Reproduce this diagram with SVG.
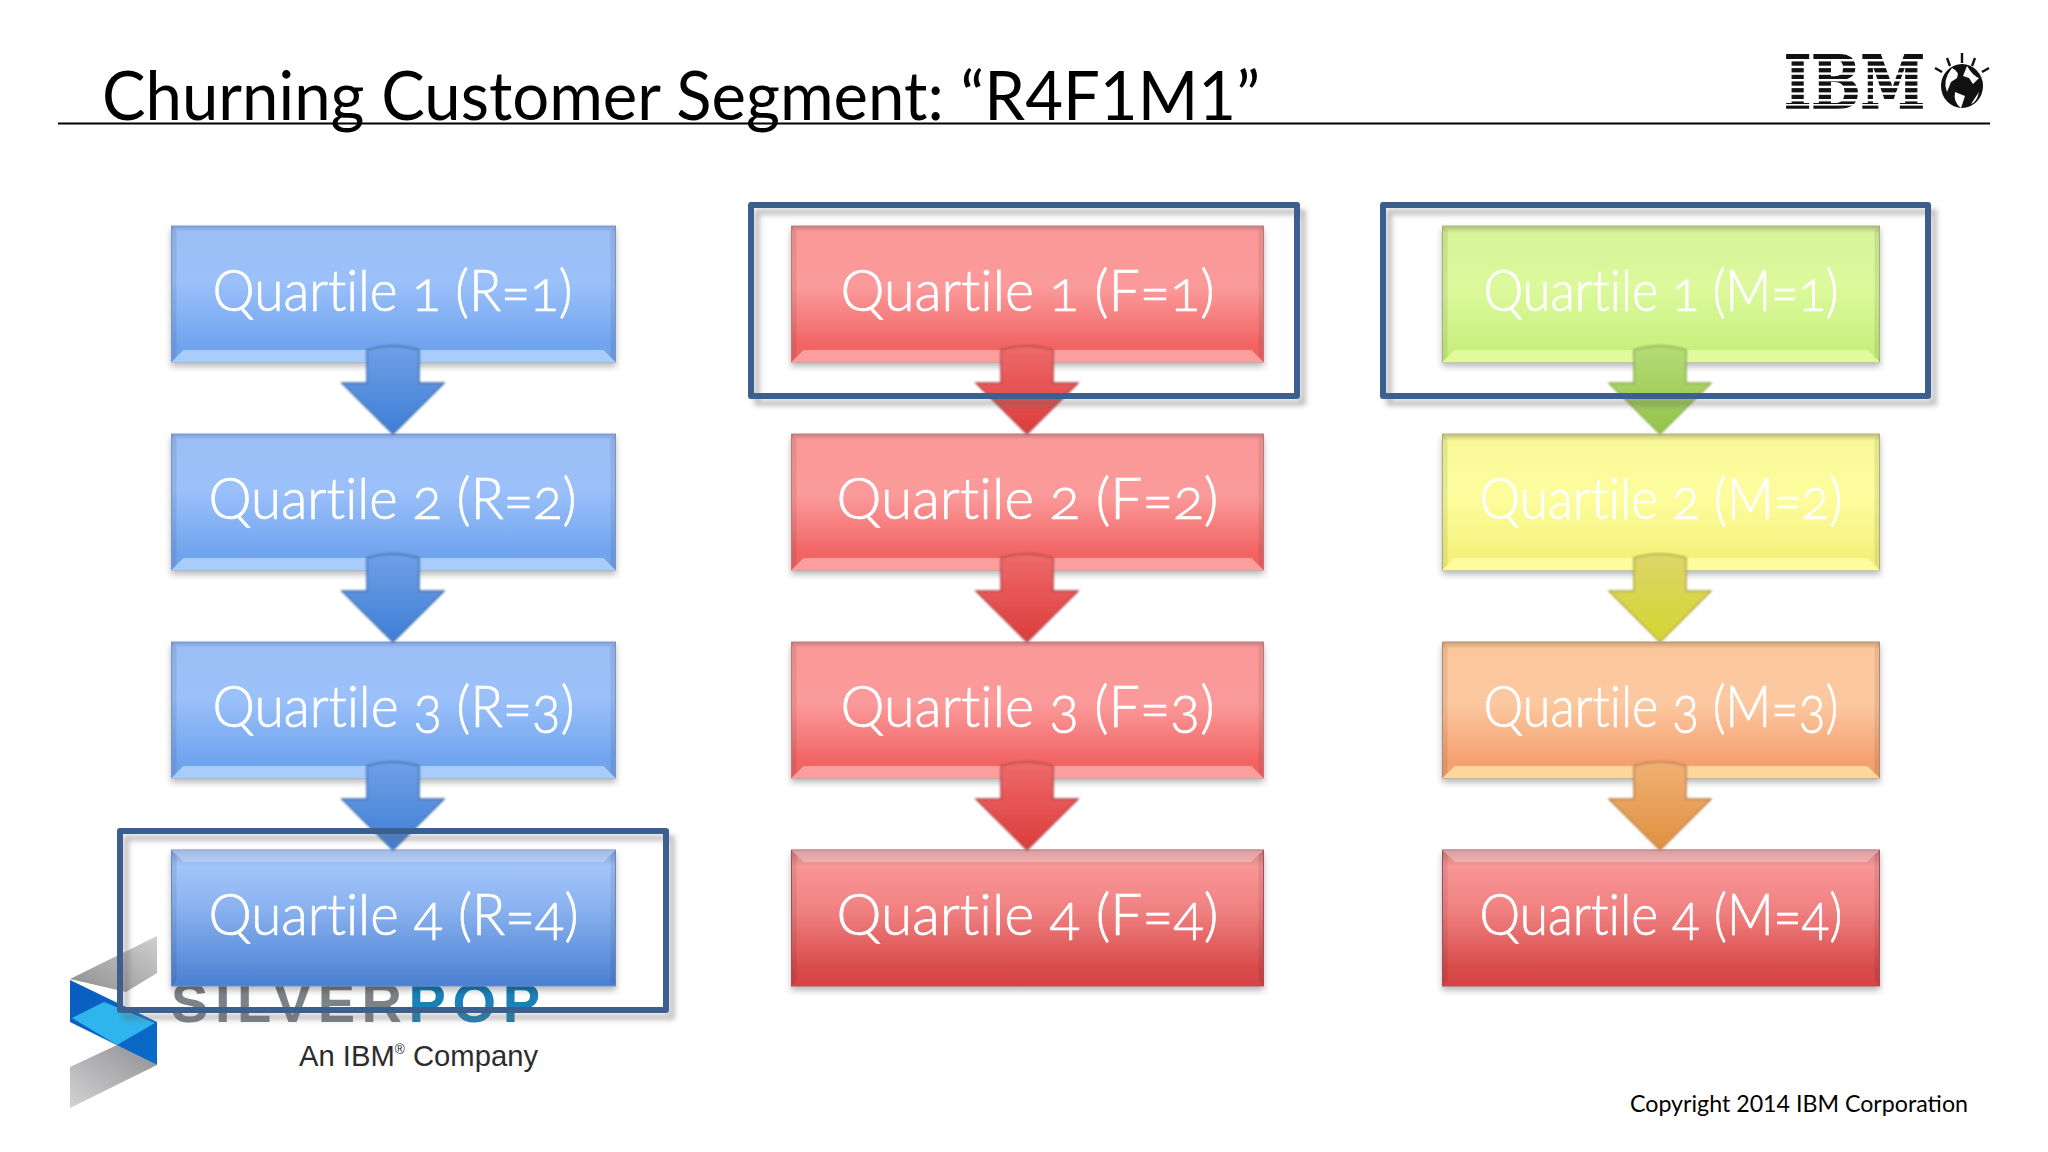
<svg xmlns="http://www.w3.org/2000/svg" width="2048" height="1152" viewBox="0 0 2048 1152">
<defs>
<style>
.t{font-family:"Lato","Open Sans",sans-serif;font-size:57px;fill:#fff;stroke:#fff;stroke-width:.7px;font-weight:300;font-variant-numeric:oldstyle-nums;font-variant-ligatures:none;font-feature-settings:"onum" 1,"liga" 0}
.title{font-family:"Lato","Open Sans",sans-serif;font-size:67px;fill:#000;font-variant-ligatures:none}
.frame{fill:none;stroke:#3b618f;stroke-width:6;stroke-linejoin:round;filter:url(#fs)}
.side{fill:#000;opacity:.08}
.hi{fill:#fff;opacity:.28}
</style>
<linearGradient id="gb" x1="0" y1="0" x2="0" y2="1"><stop offset="0" stop-color="#7f9fd6"/><stop offset=".04" stop-color="#9abdf5"/><stop offset=".4" stop-color="#9cc1fa"/><stop offset=".88" stop-color="#70a4ee"/><stop offset="1" stop-color="#70a4ee"/></linearGradient>
<linearGradient id="gb4" x1="0" y1="0" x2="0" y2="1"><stop offset="0" stop-color="#7f9fd6"/><stop offset=".12" stop-color="#a2c4fa"/><stop offset=".4" stop-color="#8cb4f0"/><stop offset="1" stop-color="#4a80d2"/></linearGradient>
<linearGradient id="gr" x1="0" y1="0" x2="0" y2="1"><stop offset="0" stop-color="#c87c7c"/><stop offset=".04" stop-color="#fb9898"/><stop offset=".45" stop-color="#fb9a9a"/><stop offset=".88" stop-color="#f26464"/><stop offset="1" stop-color="#f26464"/></linearGradient>
<linearGradient id="gr4" x1="0" y1="0" x2="0" y2="1"><stop offset="0" stop-color="#c87c7c"/><stop offset=".12" stop-color="#f99696"/><stop offset=".45" stop-color="#f08080"/><stop offset=".88" stop-color="#d84a4a"/><stop offset="1" stop-color="#d64444"/></linearGradient>
<linearGradient id="gg" x1="0" y1="0" x2="0" y2="1"><stop offset="0" stop-color="#a8bc78"/><stop offset=".05" stop-color="#d6f498"/><stop offset=".45" stop-color="#dcf99c"/><stop offset=".9" stop-color="#c8f07e"/><stop offset="1" stop-color="#c8f07e"/></linearGradient>
<linearGradient id="gy" x1="0" y1="0" x2="0" y2="1"><stop offset="0" stop-color="#bcbc78"/><stop offset=".05" stop-color="#f8f898"/><stop offset=".45" stop-color="#fdfd9e"/><stop offset=".9" stop-color="#f4f27c"/><stop offset="1" stop-color="#f4f27c"/></linearGradient>
<linearGradient id="go" x1="0" y1="0" x2="0" y2="1"><stop offset="0" stop-color="#c8a078"/><stop offset=".05" stop-color="#fcc79c"/><stop offset=".45" stop-color="#fcc8a0"/><stop offset=".88" stop-color="#f5a070"/><stop offset="1" stop-color="#f5a070"/></linearGradient>
<linearGradient id="ab" x1="0" y1="0" x2="0" y2="1"><stop offset="0" stop-color="#6ea0e6"/><stop offset="1" stop-color="#3f7ed6"/></linearGradient>
<linearGradient id="ar" x1="0" y1="0" x2="0" y2="1"><stop offset="0" stop-color="#ee6a6a"/><stop offset="1" stop-color="#dc3c3c"/></linearGradient>
<linearGradient id="ag" x1="0" y1="0" x2="0" y2="1"><stop offset="0" stop-color="#b4dc78"/><stop offset="1" stop-color="#94c448"/></linearGradient>
<linearGradient id="ay" x1="0" y1="0" x2="0" y2="1"><stop offset="0" stop-color="#dcd66a"/><stop offset="1" stop-color="#d6d430"/></linearGradient>
<linearGradient id="ao" x1="0" y1="0" x2="0" y2="1"><stop offset="0" stop-color="#f0b074"/><stop offset="1" stop-color="#e09040"/></linearGradient>
<linearGradient id="s1" x1="0" y1="1" x2="1" y2="0"><stop offset="0" stop-color="#8e8e90"/><stop offset="1" stop-color="#cfcfd0"/></linearGradient>
<linearGradient id="s2" x1="1" y1="0" x2="0" y2="1"><stop offset="0" stop-color="#909092"/><stop offset="1" stop-color="#d2d2d4"/></linearGradient>
<linearGradient id="s3" x1="0" y1="0" x2="1" y2="1"><stop offset="0" stop-color="#0a5cc0"/><stop offset="1" stop-color="#0a6cc8"/></linearGradient>
<filter id="sh" x="-5%" y="-5%" width="110%" height="125%"><feGaussianBlur in="SourceGraphic" stdDeviation=".6" result="b"/><feDropShadow in="b" dx="0" dy="4" stdDeviation="3" flood-color="#000" flood-opacity=".28"/></filter>
<filter id="fs" x="-5%" y="-8%" width="110%" height="120%"><feDropShadow dx="6" dy="7" stdDeviation="2.500" flood-color="#666" flood-opacity=".4"/></filter>
<filter id="b1"><feGaussianBlur stdDeviation=".9"/></filter>
<path id="arrow" d="M-26,-84 Q0,-92 26,-84 L26,-51 L51,-51 L0,0 L-51,-51 L-26,-51Z"/>
<g id="sideR"><polygon class="side" points="0,0 5,5 5,131 0,136"/><polygon class="side" points="444,0 439,5 439,131 444,136"/></g>
<g id="sideF"><polygon class="side" points="0,0 5,5 5,131 0,136"/><polygon class="side" points="472,0 467,5 467,131 472,136"/></g>
<g id="sideM"><polygon class="side" points="0,0 5,5 5,131 0,136"/><polygon class="side" points="437,0 432,5 432,131 437,136"/></g>
<polygon id="botR" points="0,136 12,124 432,124 444,136"/>
<polygon id="botF" points="0,136 12,124 460,124 472,136"/>
<polygon id="botM" points="0,136 12,124 425,124 437,136"/>
<polygon id="topR" class="hi" points="0,0 444,0 432,12 12,12"/>
<polygon id="topF" class="hi" points="0,0 472,0 460,12 12,12"/>
<polygon id="topM" class="hi" points="0,0 437,0 425,12 12,12"/>
</defs>
<rect width="2048" height="1152" fill="#fff"/>

<g id="title">
<text class="title" x="102" y="120" textLength="1158" lengthAdjust="spacingAndGlyphs">Churning Customer Segment: “R4F1M1”</text>
<line x1="58" y1="123.500" x2="1990" y2="123.500" stroke="#000" stroke-width="2"/>
</g>

<g id="ibm-logo" transform="translate(-3,0)">
<text x="1787" y="108" font-family="DejaVu Serif,serif" font-weight="700" font-size="73" textLength="141" lengthAdjust="spacingAndGlyphs" fill="#111" stroke="#111" stroke-width="1.500">IBM</text>
<g fill="#fff"><rect x="1785" y="59" width="148" height="2.400"/><rect x="1785" y="65.700" width="148" height="2.400"/><rect x="1785" y="72.400" width="148" height="2.400"/><rect x="1785" y="79" width="148" height="2.400"/><rect x="1785" y="85.700" width="148" height="2.400"/><rect x="1785" y="92.400" width="148" height="2.400"/><rect x="1785" y="99" width="148" height="2.400"/><rect x="1785" y="104" width="148" height="1.600"/></g>
<ellipse cx="1965" cy="86" rx="21" ry="22" fill="#111"/>
<path d="M1955,68 q8,4 5,10 l-6,4 l-4,10 q-5,-12 5,-24Z M1970,66 q6,10 12,12 l-6,6 l-4,-6 l-6,-2Z M1958,92 l10,4 l-4,12 q-8,-6 -6,-16Z M1982,92 l-8,12 q6,-2 8,-12Z" fill="#fff"/>
<g stroke="#111" stroke-width="2.400"><line x1="1965" y1="53" x2="1965" y2="63"/><line x1="1950" y1="58" x2="1953" y2="66"/><line x1="1978" y1="58" x2="1975" y2="66"/><line x1="1938" y1="68" x2="1945" y2="72"/><line x1="1992" y1="68" x2="1985" y2="72"/></g>
</g>

<g id="silverpop-logo">
<polygon points="70,979 157,936 157,973 126,992" fill="url(#s1)"/>
<polygon points="70,1067 117,1045 157,1065 70,1108" fill="url(#s2)"/>
<polygon points="70,980 157,1022 157,1065 70,1022" fill="url(#s3)"/>
<polygon points="104,1002 155,1023 117,1045 72,1018" fill="#2fb4ee"/>
<text x="171" y="1022" font-family="Liberation Sans,sans-serif" font-weight="700" font-size="56" textLength="369" lengthAdjust="spacing" fill="#7d8288">SILVER<tspan fill="#1b80b8">POP</tspan></text>
<text x="299" y="1066" font-family="Liberation Sans,sans-serif" font-size="30" textLength="239" lengthAdjust="spacingAndGlyphs" fill="#2c2c2c">An IBM<tspan font-size="14" dy="-12">®</tspan><tspan dy="12"> Company</tspan></text>
</g>

<g id="nodes" transform="translate(.5,0)">
<g id="r1" filter="url(#sh)"><rect x="171" y="226" width="444" height="136" fill="url(#gb)" stroke="#7c9ccc"/><use href="#sideR" x="171" y="226"/><use href="#botR" x="171" y="226" fill="#a8cdf8"/><text class="t" x="212" y="311" textLength="360" lengthAdjust="spacingAndGlyphs">Quartile 1 (R=1)</text></g>
<g id="r2" filter="url(#sh)"><rect x="171" y="434" width="444" height="136" fill="url(#gb)" stroke="#7c9ccc"/><use href="#sideR" x="171" y="434"/><use href="#botR" x="171" y="434" fill="#a8cdf8"/><text class="t" x="208" y="519" textLength="368" lengthAdjust="spacingAndGlyphs">Quartile 2 (R=2)</text></g>
<g id="r3" filter="url(#sh)"><rect x="171" y="642" width="444" height="136" fill="url(#gb)" stroke="#7c9ccc"/><use href="#sideR" x="171" y="642"/><use href="#botR" x="171" y="642" fill="#a8cdf8"/><text class="t" x="212" y="727" textLength="362" lengthAdjust="spacingAndGlyphs">Quartile 3 (R=3)</text></g>
<g id="r4" filter="url(#sh)"><rect x="171" y="850" width="444" height="136" fill="url(#gb4)" stroke="#6c8cc0"/><use href="#sideR" x="171" y="850"/><use href="#topR" x="171" y="850"/><text class="t" x="208" y="935" textLength="370" lengthAdjust="spacingAndGlyphs">Quartile 4 (R=4)</text></g>

<g id="f1" filter="url(#sh)"><rect x="791" y="226" width="472" height="136" fill="url(#gr)" stroke="#c47c7c"/><use href="#sideF" x="791" y="226"/><use href="#botF" x="791" y="226" fill="#fb9e9e"/><text class="t" x="840" y="311" textLength="374" lengthAdjust="spacingAndGlyphs">Quartile 1 (F=1)</text></g>
<g id="f2" filter="url(#sh)"><rect x="791" y="434" width="472" height="136" fill="url(#gr)" stroke="#c47c7c"/><use href="#sideF" x="791" y="434"/><use href="#botF" x="791" y="434" fill="#fb9e9e"/><text class="t" x="836" y="519" textLength="382" lengthAdjust="spacingAndGlyphs">Quartile 2 (F=2)</text></g>
<g id="f3" filter="url(#sh)"><rect x="791" y="642" width="472" height="136" fill="url(#gr)" stroke="#c47c7c"/><use href="#sideF" x="791" y="642"/><use href="#botF" x="791" y="642" fill="#fb9e9e"/><text class="t" x="840" y="727" textLength="374" lengthAdjust="spacingAndGlyphs">Quartile 3 (F=3)</text></g>
<g id="f4" filter="url(#sh)"><rect x="791" y="850" width="472" height="136" fill="url(#gr4)" stroke="#a85060"/><use href="#sideF" x="791" y="850"/><use href="#topF" x="791" y="850"/><text class="t" x="836" y="935" textLength="382" lengthAdjust="spacingAndGlyphs">Quartile 4 (F=4)</text></g>

<g id="m1" filter="url(#sh)"><rect x="1442" y="226" width="437" height="136" fill="url(#gg)" stroke="#a8bc78"/><use href="#sideM" x="1442" y="226"/><use href="#botM" x="1442" y="226" fill="#e2fa9e"/><text class="t" x="1483" y="311" textLength="355" lengthAdjust="spacingAndGlyphs">Quartile 1 (M=1)</text></g>
<g id="m2" filter="url(#sh)"><rect x="1442" y="434" width="437" height="136" fill="url(#gy)" stroke="#b4b878"/><use href="#sideM" x="1442" y="434"/><use href="#botM" x="1442" y="434" fill="#fdfd9e"/><text class="t" x="1479" y="519" textLength="363" lengthAdjust="spacingAndGlyphs">Quartile 2 (M=2)</text></g>
<g id="m3" filter="url(#sh)"><rect x="1442" y="642" width="437" height="136" fill="url(#go)" stroke="#b89070"/><use href="#sideM" x="1442" y="642"/><use href="#botM" x="1442" y="642" fill="#fbd79e"/><text class="t" x="1483" y="727" textLength="355" lengthAdjust="spacingAndGlyphs">Quartile 3 (M=3)</text></g>
<g id="m4" filter="url(#sh)"><rect x="1442" y="850" width="437" height="136" fill="url(#gr4)" stroke="#a85060"/><use href="#sideM" x="1442" y="850"/><use href="#topM" x="1442" y="850"/><text class="t" x="1479" y="935" textLength="363" lengthAdjust="spacingAndGlyphs">Quartile 4 (M=4)</text></g>
</g>

<g id="connectors" stroke-width="1.500" filter="url(#b1)">
<use href="#arrow" transform="translate(393,434)" fill="url(#ab)" stroke="#3f6fae"/>
<use href="#arrow" transform="translate(393,642)" fill="url(#ab)" stroke="#3f6fae"/>
<use href="#arrow" transform="translate(393,850)" fill="url(#ab)" stroke="#3f6fae"/>
<use href="#arrow" transform="translate(1027,434)" fill="url(#ar)" stroke="#b04848"/>
<use href="#arrow" transform="translate(1027,642)" fill="url(#ar)" stroke="#b04848"/>
<use href="#arrow" transform="translate(1027,850)" fill="url(#ar)" stroke="#b04848"/>
<use href="#arrow" transform="translate(1660,434)" fill="url(#ag)" stroke="#8cac50"/>
<use href="#arrow" transform="translate(1660,642)" fill="url(#ay)" stroke="#a8a840"/>
<use href="#arrow" transform="translate(1660,850)" fill="url(#ao)" stroke="#b88048"/>
</g>

<g id="frames">
<rect id="frame-r" class="frame" x="120" y="831" width="546" height="179"/>
<rect id="frame-f" class="frame" x="751" y="205" width="546" height="191"/>
<rect id="frame-m" class="frame" x="1383" y="205" width="545" height="191"/>
</g>

<text id="copyright" x="1630" y="1112" font-family="Lato,Open Sans,sans-serif" font-size="24" textLength="338" lengthAdjust="spacingAndGlyphs" fill="#000">Copyright 2014 IBM Corporation</text>
</svg>
